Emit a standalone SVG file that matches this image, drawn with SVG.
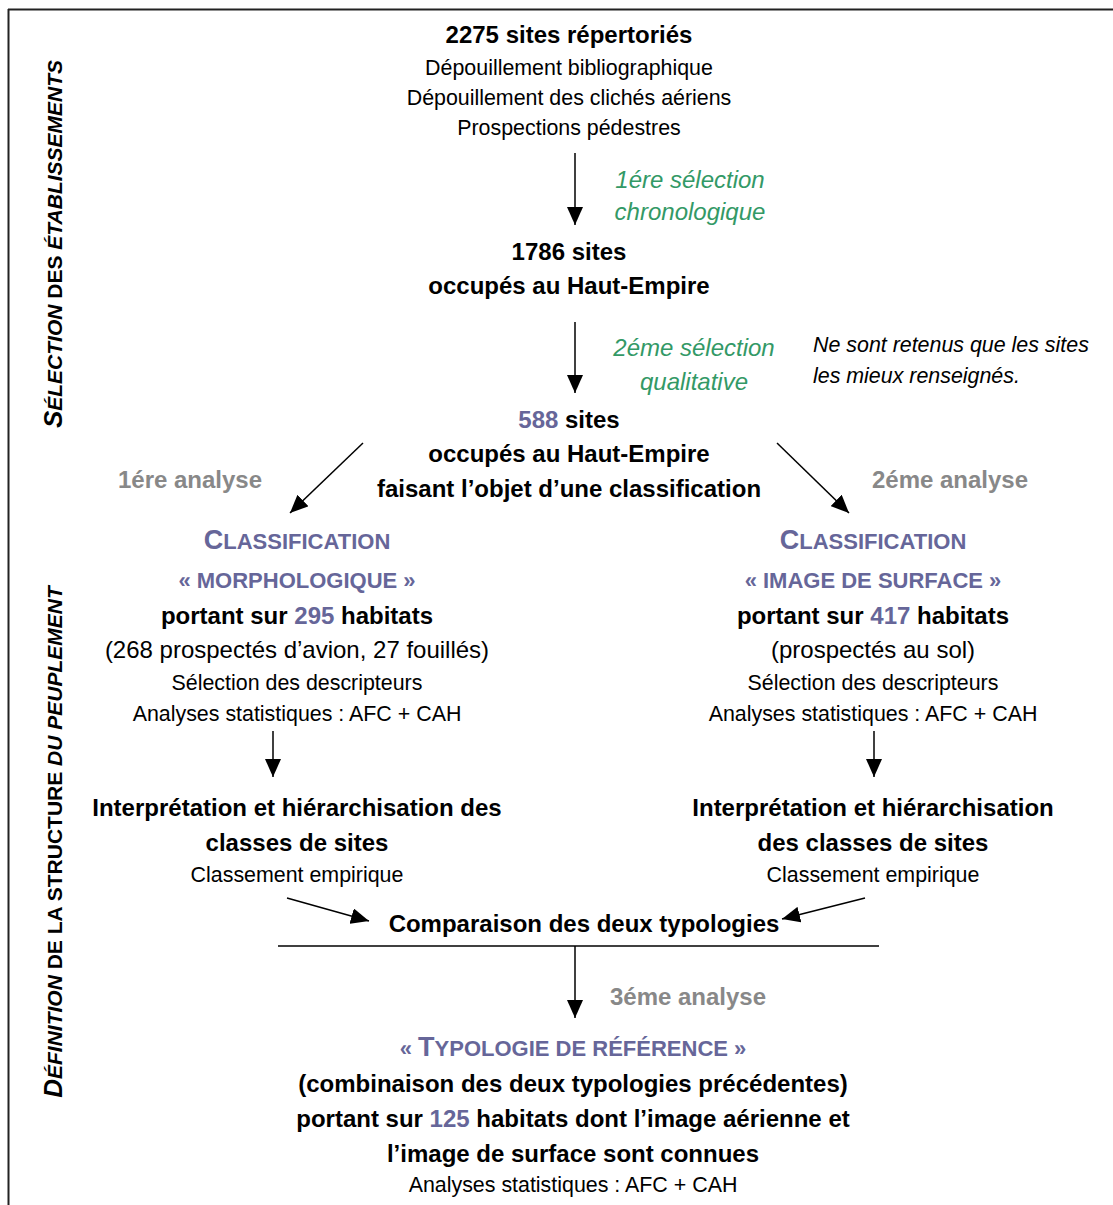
<svg xmlns="http://www.w3.org/2000/svg" width="1113" height="1205" viewBox="0 0 1113 1205">
<style>
text{font-family:"Liberation Sans",Arial,sans-serif;fill:#000;text-anchor:middle}
.b{font-weight:bold;font-size:24px}
.n{font-size:21.4px}
.l{font-size:24px}
.g{font-style:italic;font-size:24px;fill:#339966}
.gr{font-weight:bold;font-size:24px;fill:#888}
.p{fill:#666699}
.pc{font-weight:bold;font-size:22px;fill:#666699}
.it{font-style:italic;font-size:21.4px;text-anchor:start}
.side{font-weight:bold;font-style:italic;font-size:21px}
.ln{stroke:#000;stroke-width:1.5;fill:none}
</style>
<defs>
<marker id="ah" viewBox="0 0 18 16" refX="18" refY="8" markerWidth="18" markerHeight="16" markerUnits="userSpaceOnUse" orient="auto">
<path d="M0,0 L18,8 L0,16 Z" fill="#000"/>
</marker>
</defs>
<g id="frame">
<line x1="8" y1="9.5" x2="1113" y2="9.5" stroke="#222" stroke-width="2"/>
<line x1="8.5" y1="9" x2="8.5" y2="1205" stroke="#222" stroke-width="2"/>
</g>
<g id="side-labels">
<text class="side" transform="translate(62,244) rotate(-90)"><tspan font-size="26">S</tspan>ÉLECTION <tspan font-style="normal">DES</tspan> ÉTABLISSEMENTS</text>
<text class="side" transform="translate(62,842) rotate(-90)"><tspan font-size="26">D</tspan>ÉFINITION <tspan font-style="normal">DE LA STRUCTURE</tspan> DU PEUPLEMENT</text>
</g>
<g id="connectors">
<line class="ln" x1="575" y1="153" x2="575" y2="225" marker-end="url(#ah)"/>
<line class="ln" x1="575" y1="322" x2="575" y2="393" marker-end="url(#ah)"/>
<line class="ln" x1="363" y1="443" x2="290" y2="513" marker-end="url(#ah)"/>
<line class="ln" x1="777" y1="443" x2="849" y2="513" marker-end="url(#ah)"/>
<line class="ln" x1="273" y1="731" x2="273" y2="777" marker-end="url(#ah)"/>
<line class="ln" x1="874" y1="731" x2="874" y2="777" marker-end="url(#ah)"/>
<line class="ln" x1="287" y1="898" x2="369" y2="921" marker-end="url(#ah)"/>
<line class="ln" x1="865" y1="898" x2="782" y2="919" marker-end="url(#ah)"/>
<line class="ln" x1="278" y1="946" x2="879" y2="946"/>
<line class="ln" x1="575" y1="946" x2="575" y2="1018" marker-end="url(#ah)"/>
</g>
<g id="node-2275">
<text class="b" x="569" y="43">2275 sites répertoriés</text>
<text class="n" x="569" y="75">Dépouillement bibliographique</text>
<text class="n" x="569" y="105">Dépouillement des clichés aériens</text>
<text class="n" x="569" y="135">Prospections pédestres</text>
</g>
<g id="label-sel1">
<text class="g" x="690" y="188">1ére sélection</text>
<text class="g" x="690" y="220">chronologique</text>
</g>
<g id="node-1786">
<text class="b" x="569" y="260">1786 sites</text>
<text class="b" x="569" y="294">occupés au Haut-Empire</text>
</g>
<g id="label-sel2">
<text class="g" x="694" y="356">2éme sélection</text>
<text class="g" x="694" y="390">qualitative</text>
</g>
<g id="note">
<text class="it" x="813" y="352">Ne sont retenus que les sites</text>
<text class="it" x="813" y="383">les mieux renseignés.</text>
</g>
<g id="node-588">
<text class="b" x="569" y="428"><tspan class="p">588</tspan> sites</text>
<text class="b" x="569" y="462">occupés au Haut-Empire</text>
<text class="b" x="569" y="497">faisant l’objet d’une classification</text>
</g>
<g id="label-analyse1"><text class="gr" x="190" y="488">1ére analyse</text></g>
<g id="label-analyse2"><text class="gr" x="950" y="488">2éme analyse</text></g>
<g id="node-morpho">
<text class="pc" x="297" y="549"><tspan font-size="27">C</tspan>LASSIFICATION</text>
<text class="pc" x="297" y="588">« MORPHOLOGIQUE »</text>
<text class="b" x="297" y="624">portant sur <tspan class="p">295</tspan> habitats</text>
<text class="l" x="297" y="658">(268 prospectés d’avion, 27 fouillés)</text>
<text class="n" x="297" y="690">Sélection des descripteurs</text>
<text class="n" x="297" y="721">Analyses statistiques : AFC + CAH</text>
</g>
<g id="node-surface">
<text class="pc" x="873" y="549"><tspan font-size="27">C</tspan>LASSIFICATION</text>
<text class="pc" x="873" y="588">« IMAGE DE SURFACE »</text>
<text class="b" x="873" y="624">portant sur <tspan class="p">417</tspan> habitats</text>
<text class="l" x="873" y="658">(prospectés au sol)</text>
<text class="n" x="873" y="690">Sélection des descripteurs</text>
<text class="n" x="873" y="721">Analyses statistiques : AFC + CAH</text>
</g>
<g id="node-interp-left">
<text class="b" x="297" y="816">Interprétation et hiérarchisation des</text>
<text class="b" x="297" y="851">classes de sites</text>
<text class="n" x="297" y="882">Classement empirique</text>
</g>
<g id="node-interp-right">
<text class="b" x="873" y="816">Interprétation et hiérarchisation</text>
<text class="b" x="873" y="851">des classes de sites</text>
<text class="n" x="873" y="882">Classement empirique</text>
</g>
<g id="node-comparaison">
<text class="b" x="584" y="932">Comparaison des deux typologies</text>
</g>
<g id="label-analyse3"><text class="gr" x="688" y="1005">3éme analyse</text></g>
<g id="node-reference">
<text class="pc" x="573" y="1056">« <tspan font-size="27">T</tspan>YPOLOGIE DE RÉFÉRENCE »</text>
<text class="b" x="573" y="1092">(combinaison des deux typologies précédentes)</text>
<text class="b" x="573" y="1127">portant sur <tspan class="p">125</tspan> habitats dont l’image aérienne et</text>
<text class="b" x="573" y="1162">l’image de surface sont connues</text>
<text class="n" x="573" y="1192">Analyses statistiques : AFC + CAH</text>
</g>
</svg>
